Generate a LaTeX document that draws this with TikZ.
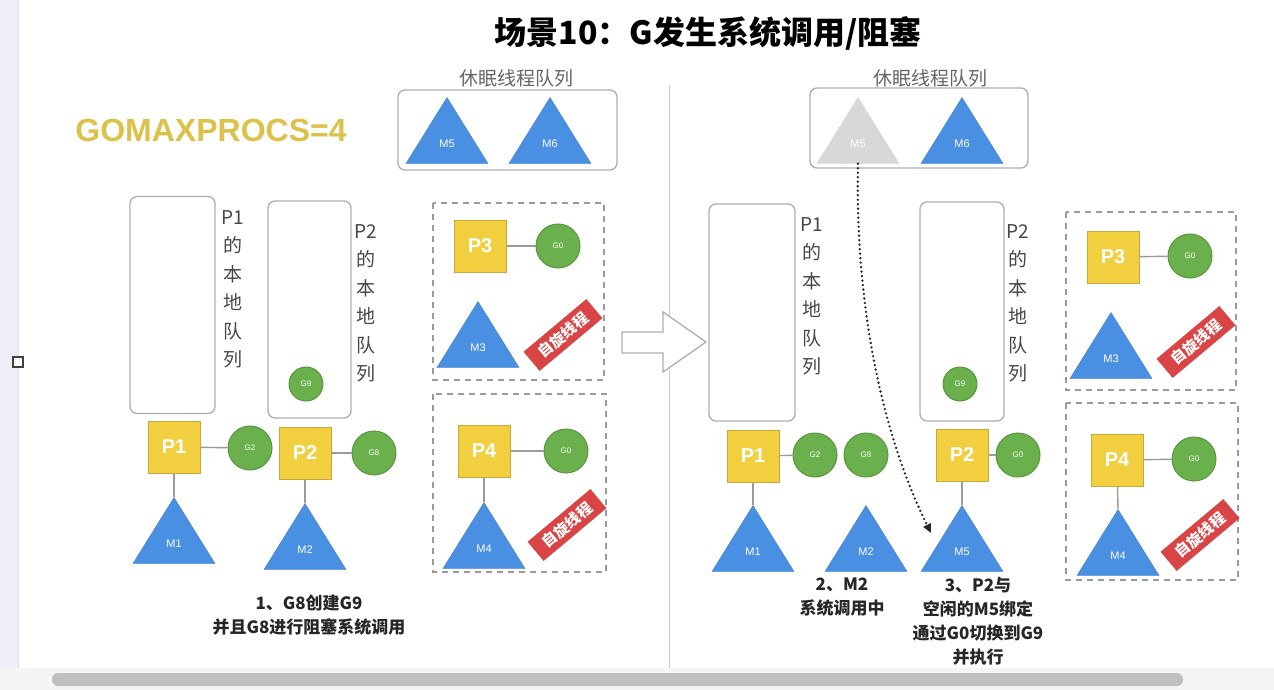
\documentclass[tikz,border=0pt]{standalone}
\usepackage{fontspec}
\setmainfont{Noto Sans CJK SC}
\newfontfamily\latinfont{Liberation Sans}
\usepackage{xcolor}
\definecolor{procYellow}{HTML}{F2CF3E}
\definecolor{procEdge}{HTML}{C9A93A}
\definecolor{gorGreen}{HTML}{6AB04C}
\definecolor{gorEdge}{HTML}{5A963F}
\definecolor{thrBlue}{HTML}{4A90E2}
\definecolor{thrEdge}{HTML}{3F7FC8}
\definecolor{spinRed}{HTML}{D94545}
\definecolor{maxGold}{HTML}{DCC24A}
\definecolor{linkGray}{HTML}{9A9A9A}
\definecolor{idleGray}{HTML}{D8D8D8}
\definecolor{frameLav}{HTML}{EEEEF6}
\usetikzlibrary{shapes.geometric,arrows.meta}

\begin{document}
\begin{tikzpicture}[x=1pt, y=-1pt,
  proc/.style={rectangle, fill=procYellow, draw=procEdge, line width=1pt, minimum size=52pt, inner sep=0pt, text=white, font=\latinfont\bfseries\fontsize{20}{20}\selectfont},
  gor/.style={circle, fill=gorGreen, draw=gorEdge, line width=1pt, minimum size=44pt, inner sep=0pt, text=white, font=\latinfont\fontsize{8}{8}\selectfont},
  thr/.style={isosceles triangle, shape border rotate=90, isosceles triangle stretches, minimum width=82pt, minimum height=66pt, inner sep=0pt, anchor=apex, fill=thrBlue, draw=thrEdge, text=white, font=\latinfont\fontsize{11}{11}\selectfont},
  localq/.style={rectangle, rounded corners=7pt, draw=linkGray!80, line width=1.3pt, minimum width=85pt, minimum height=217pt},
  qlabel/.style={anchor=north, align=center, text=black!72, font=\fontsize{19}{28.5}\selectfont},
  spinbox/.style={draw=linkGray, line width=1.2pt, dash pattern=on 6pt off 5pt},
  spintag/.style={rectangle, fill=spinRed, rotate=40, minimum width=82pt, minimum height=25pt, inner sep=0pt, text=white, font=\bfseries\fontsize{15}{15}\selectfont},
  link/.style={draw=linkGray, line width=1.4pt},
  note/.style={align=center, text=black!85, font=\bfseries\fontsize{17}{24}\selectfont},
  sleeplabel/.style={text=black!60, font=\fontsize{19}{19}\selectfont}]
  % page, window frame and scrollbar
  \useasboundingbox (0,0) rectangle (1274,690);
  \fill[white] (0,0) rectangle (1274,690);
  \fill[frameLav] (0,0) rectangle (18,690);
  \draw[blue!12, line width=1pt] (18,0) -- (18,668);
  \draw[black!75, fill=white, line width=1.5pt] (13,357) rectangle (23,367);
  \fill[black!4] (0,668) rectangle (1274,690);
  \fill[black!25, rounded corners=6pt] (52,673) rectangle (1183,686);
  \draw[black!20, line width=1pt] (669,85) -- (669,668);

  % title
  \node[font=\bfseries\fontsize{32}{32}\selectfont] (title) at (708,33) {场景10：G发生系统调用/阻塞};
  \node[text=maxGold, font=\latinfont\bfseries\fontsize{32}{32}\selectfont] (maxprocs) at (211,130) {GOMAXPROCS=4};

  % ---- before ----
  \node[sleeplabel] (sleepL) at (516,78) {休眠线程队列};
  \draw[linkGray!80, line width=1.3pt, rounded corners=7pt] (398,90) rectangle (617,170);
  \node[thr] (m5L) at (447,97) {M5};
  \node[thr] (m6L) at (550,97) {M6};

  \node[localq] (q1L) at (172.5,305) {};
  \node[qlabel] (q1Ltext) at (233,207) {P1\\的\\本\\地\\队\\列};
  \node[localq, minimum width=83pt] (q2L) at (309.5,309.5) {};
  \node[gor, minimum size=34pt] (g9L) at (306,384) {G9};
  \node[qlabel] (q2Ltext) at (366,221) {P2\\的\\本\\地\\队\\列};

  \node[proc] (p1L) at (174,447) {P1};
  \node[gor] (g2L) at (250,448) {G2};
  \node[thr] (m1L) at (174,497) {M1};
  \draw[link] (p1L) -- (g2L);
  \draw[link] (p1L) -- (m1L.apex);

  \node[proc] (p2L) at (305,453) {P2};
  \node[gor] (g8L) at (374,453) {G8};
  \node[thr] (m2L) at (305,503) {M2};
  \draw[link] (p2L) -- (g8L);
  \draw[link] (p2L) -- (m2L.apex);
  \node[note] (stepA) at (309,615) {1、G8创建G9\\并且G8进行阻塞系统调用};

  \draw[spinbox] (433,203) rectangle (604,380);
  \node[proc] (p3L) at (480,246) {P3};
  \node[gor] (g0aL) at (558,246) {G0};
  \node[thr] (m3L) at (478,301) {M3};
  \node[spintag] (spinaL) at (563,335) {自旋线程};
  \draw[link] (p3L) -- (g0aL);

  \draw[spinbox] (433,394) rectangle (606,572);
  \node[proc] (p4L) at (484,451) {P4};
  \node[gor] (g0bL) at (566,451) {G0};
  \node[thr] (m4L) at (484,502) {M4};
  \node[spintag] (spinbL) at (567,525) {自旋线程};
  \draw[link] (p4L) -- (g0bL);
  \draw[link] (p4L) -- (m4L.apex);

  % transition arrow
  \draw[linkGray!80, fill=white, line width=1.3pt] (622,332) -- (663,332) -- (663,312) -- (706,342) -- (663,372) -- (663,353) -- (622,353) -- cycle;

  % ---- after ----
  \node[sleeplabel] (sleepR) at (930,78) {休眠线程队列};
  \draw[linkGray!80, line width=1.3pt, rounded corners=7pt] (810,88) rectangle (1028,168);
  \node[thr, fill=idleGray, draw=linkGray!70, densely dotted] (m5idle) at (858,97) {M5};
  \node[thr] (m6R) at (962,97) {M6};

  \node[localq, minimum width=86pt] (q1R) at (752,312.5) {};
  \node[qlabel] (q1Rtext) at (812,214) {P1\\的\\本\\地\\队\\列};
  \node[localq, minimum width=84pt, minimum height=219pt] (q2R) at (962,311.5) {};
  \node[gor, minimum size=34pt] (g9R) at (960,384) {G9};
  \node[qlabel] (q2Rtext) at (1018,221) {P2\\的\\本\\地\\队\\列};

  \node[proc] (p1R) at (753,456) {P1};
  \node[gor] (g2R) at (815,455) {G2};
  \node[gor] (g8R) at (866,455) {G8};
  \node[thr] (m1R) at (753,505) {M1};
  \node[thr] (m2R) at (866,505) {M2};
  \draw[link] (p1R) -- (g2R);
  \draw[link] (p1R) -- (m1R.apex);
  \node[note] (stepB) at (842,597) {2、M2\\系统调用中};

  \node[proc] (p2R) at (962,455) {P2};
  \node[gor] (g0R) at (1018,455) {G0};
  \node[thr] (m5R) at (962,505) {M5};
  \draw[link] (p2R) -- (g0R);
  \draw[link] (p2R) -- (m5R.apex);
  \node[note] (stepC) at (978,621) {3、P2与\\空闲的M5绑定\\通过G0切换到G9\\并执行};

  \coordinate (m5hit) at (931,533);
  \draw[black!85, line width=2.6pt, line cap=round, dash pattern=on 0pt off 4.5pt, -{Triangle[length=9pt,width=8pt]}] (m5idle.south) .. controls (855,300) and (880,430) .. (m5hit);

  \draw[spinbox] (1066,212) rectangle (1236,390);
  \node[proc] (p3R) at (1113,257) {P3};
  \node[gor] (g0aR) at (1190,256) {G0};
  \node[thr] (m3R) at (1111,312) {M3};
  \node[spintag] (spinaR) at (1196,342) {自旋线程};
  \draw[link] (p3R) -- (g0aR);

  \draw[spinbox] (1066,403) rectangle (1238,580);
  \node[proc] (p4R) at (1117,460) {P4};
  \node[gor] (g0bR) at (1194,459) {G0};
  \node[thr] (m4R) at (1118,509) {M4};
  \node[spintag] (spinbR) at (1200,535) {自旋线程};
  \draw[link] (p4R) -- (g0bR);
  \draw[link] (p4R) -- (m4R.apex);
\end{tikzpicture}
\end{document}
